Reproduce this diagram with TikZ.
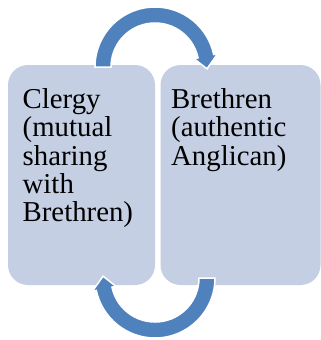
\documentclass[tikz,border=0pt]{standalone}
\usepackage{fontspec}
\setmainfont{Liberation Serif}
\usetikzlibrary{calc}
\definecolor{boxfill}{RGB}{197,207,227}
\definecolor{arrowblue}{RGB}{79,129,189}
\begin{document}
\begin{tikzpicture}[x=1pt,y=-1pt,
  panel/.style={fill=boxfill, draw=none, rounded corners=20pt, inner sep=0pt, minimum height=220pt},
  arrowshape/.style={fill=arrowblue, draw=white, line width=1.5pt, line join=miter},
  boxtext/.style={anchor=base west, inner sep=0pt, align=left, text width=140pt, font=\fontsize{28.8}{28.3}\selectfont}]
\path[use as bounding box, fill=white] (0,0) rectangle (321,340);
\node[panel, minimum width=147pt] (left) at (81.5,175) {};
\node[panel, minimum width=160pt] (right) at (240.5,175) {};
\coordinate (tc) at (155,67);
\coordinate (bc) at (155,278);
\path[arrowshape] ($(tc)+(180:60)$) arc[start angle=180, end angle=348, radius=60]
  -- ($(tc)+(348:64)$) -- ($(tc)+(2:52)$) -- ($(tc)+(348:40)$) -- ($(tc)+(348:44)$)
  arc[start angle=348, end angle=180, radius=44] -- cycle;
\path[arrowshape] ($(bc)+(0:60)$) arc[start angle=0, end angle=168, radius=60]
  -- ($(bc)+(168:64)$) -- ($(bc)+(182:52)$) -- ($(bc)+(168:40)$) -- ($(bc)+(168:44)$)
  arc[start angle=168, end angle=0, radius=44] -- cycle;
\node[boxtext] (clergy) at (22.5,108.5) {Clergy\\(mutual\\sharing\\with\\Brethren)};
\node[boxtext] (brethren) at (171,108.5) {Brethren\\(authentic\\Anglican)};
\end{tikzpicture}
\end{document}
